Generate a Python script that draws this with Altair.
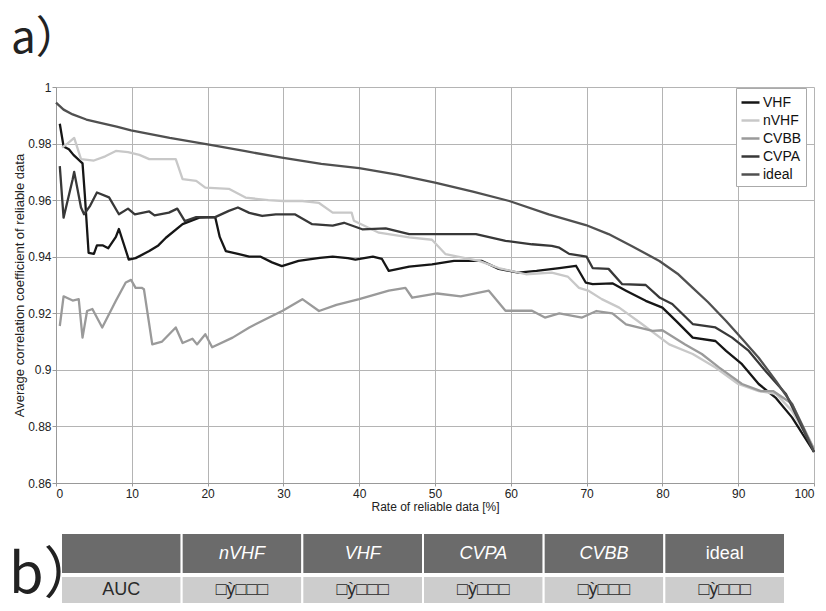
import altair as alt
import pandas as pd

SERIES = ["VHF", "nVHF", "CVBB", "CVPA", "ideal"]
COLORS = ["#161616", "#c8c8c8", "#9a9a9a", "#383838", "#505050"]

X_TICKS = [0, 10, 20, 30, 40, 50, 60, 70, 80, 90, 100]
Y_TICKS = [0.86, 0.88, 0.9, 0.92, 0.94, 0.96, 0.98, 1.0]

VHF_X = [0.5, 1.0, 1.7, 2.3, 3.5, 3.8, 4.3, 5.0, 5.4, 6.2,
         6.9, 7.9, 8.3, 9.6, 10.5, 12.3, 13.5, 14.5, 16.7, 18.9,
         21.0, 21.6, 22.4, 24.0, 25.5, 27.0, 28.5, 29.8, 32.0, 34.8,
         36.5, 38.5, 39.5, 41.8, 43.0, 43.9, 46.6, 49.6, 52.5, 56.2,
         58.4, 61.0, 63.4, 66.4, 68.6, 69.9, 70.8, 73.4, 75.2, 77.8,
         80.0, 81.8, 84.0, 87.0, 88.4, 90.5, 92.7, 95.0, 97.1, 100.0]
VHF_Y = [0.987, 0.979, 0.978, 0.976, 0.973, 0.962, 0.9414, 0.941, 0.944, 0.944,
         0.943, 0.947, 0.9498, 0.939, 0.9395, 0.942, 0.944, 0.9467, 0.9515, 0.9538,
         0.954, 0.947, 0.942, 0.941, 0.940, 0.940, 0.938, 0.9367, 0.9385, 0.9396,
         0.940, 0.9395, 0.939, 0.940, 0.9392, 0.935, 0.9365, 0.9373, 0.9385, 0.9385,
         0.9357, 0.9344, 0.935, 0.936, 0.9368, 0.9308, 0.9303, 0.9306, 0.928, 0.9244,
         0.922, 0.9173, 0.9114, 0.9102, 0.9067, 0.902, 0.895, 0.890, 0.8832, 0.871]

NVHF_X = [0.8, 1.5, 2.4, 3.3, 5.0, 6.5, 7.9, 9.5, 11.0, 12.3,
          15.8, 16.7, 18.5, 19.7, 22.8, 25.0, 28.0, 30.0, 32.5, 34.7,
          36.5, 39.0, 39.3, 42.6, 46.6, 49.6, 51.4, 53.0, 55.8, 58.4,
          62.0, 65.4, 67.5, 69.0, 70.3, 72.0, 74.3, 77.3, 80.9, 84.0,
          87.0, 90.0, 92.7, 95.0, 97.1, 100.0]
NVHF_Y = [0.9786, 0.980, 0.982, 0.9745, 0.974, 0.9755, 0.9774, 0.977, 0.976, 0.9745,
          0.9745, 0.9674, 0.9668, 0.9644, 0.964, 0.9609, 0.960, 0.9597, 0.9597, 0.959,
          0.9556, 0.9556, 0.9527, 0.9485, 0.9468, 0.946, 0.9409, 0.940, 0.9385, 0.936,
          0.9338, 0.9344, 0.933, 0.929, 0.9279, 0.925, 0.922, 0.9162, 0.909, 0.9056,
          0.9008, 0.895, 0.8925, 0.8915, 0.8855, 0.872]

CVBB_X = [0.5, 1.0, 2.2, 3.0, 3.5, 4.1, 4.8, 6.1, 7.9, 9.2,
          9.9, 10.5, 11.3, 11.6, 12.7, 14.0, 15.8, 16.7, 18.0, 18.6,
          19.7, 20.6, 23.3, 25.5, 27.7, 29.9, 32.5, 34.7, 37.0, 40.0,
          43.9, 46.1, 47.0, 50.3, 53.4, 57.1, 59.3, 62.8, 64.5, 66.4,
          69.4, 71.3, 73.4, 75.2, 78.7, 80.0, 83.0, 85.2, 87.5, 90.5,
          93.0, 94.6, 97.1, 100.0]
CVBB_Y = [0.9155, 0.926, 0.9245, 0.925, 0.9114, 0.9208, 0.9215, 0.915, 0.9244, 0.9309,
          0.9318, 0.929, 0.929, 0.9285, 0.909, 0.910, 0.915, 0.9095, 0.911, 0.909,
          0.9126, 0.908, 0.9114, 0.915, 0.918, 0.9209, 0.925, 0.9208, 0.923, 0.925,
          0.928, 0.929, 0.9255, 0.927, 0.926, 0.928, 0.9209, 0.9209, 0.9185, 0.920,
          0.9185, 0.9208, 0.920, 0.9161, 0.9138, 0.914, 0.909, 0.9056, 0.9008, 0.895,
          0.8925, 0.8925, 0.888, 0.872]

CVPA_X = [0.5, 1.0, 2.2, 2.4, 3.3, 3.7, 4.5, 5.4, 7.0, 8.3,
          9.5, 10.4, 12.3, 13.0, 14.9, 16.0, 17.0, 18.5, 21.0, 22.8,
          24.0, 25.5, 27.2, 29.0, 31.5, 33.8, 36.5, 38.0, 40.4, 43.5,
          46.6, 51.8, 55.4, 59.3, 62.8, 65.4, 66.4, 67.7, 70.0, 70.8,
          72.9, 74.7, 77.8, 79.6, 81.3, 84.0, 87.0, 89.2, 91.4, 93.6,
          96.3, 100.0]
CVPA_Y = [0.972, 0.9538, 0.9674, 0.970, 0.9574, 0.955, 0.958, 0.9627, 0.961, 0.955,
          0.957, 0.955, 0.956, 0.9546, 0.9556, 0.957, 0.9526, 0.954, 0.954, 0.9562,
          0.9574, 0.9555, 0.9544, 0.955, 0.955, 0.9515, 0.951, 0.952, 0.9497, 0.950,
          0.948, 0.948, 0.948, 0.9456, 0.9444, 0.9438, 0.9432, 0.941, 0.940, 0.936,
          0.9357, 0.9303, 0.930, 0.9256, 0.9233, 0.9162, 0.915, 0.9114, 0.9067, 0.8996,
          0.8915, 0.871]

IDEAL_X = [0.0, 1.0, 2.2, 4.0, 5.7, 8.0, 9.9, 15.0, 20.0, 25.0,
           29.8, 35.0, 40.0, 45.0, 50.0, 55.0, 59.8, 65.0, 69.9, 72.9,
           76.0, 79.6, 82.0, 84.0, 86.0, 88.4, 90.5, 92.7, 95.0, 97.1,
           98.5, 100.0]
IDEAL_Y = [0.9945, 0.992, 0.9903, 0.9885, 0.9874, 0.986, 0.9847, 0.982, 0.9797, 0.9773,
           0.975, 0.9728, 0.9713, 0.969, 0.9662, 0.963, 0.9597, 0.955, 0.9512, 0.948,
           0.9437, 0.9385, 0.934, 0.929, 0.924, 0.9173, 0.911, 0.9043, 0.896, 0.8879,
           0.880, 0.871]

TABLE_KEYS = ["c0", "c1", "c2", "c3", "c4", "c5"]
TABLE_HEADERS = ["", "nVHF", "VHF", "CVPA", "CVBB", "ideal"]
HEADER_ITALIC = [False, True, True, True, True, False]
AUC_ROW = ["AUC", "□ỳ□□□", "□ỳ□□□", "□ỳ□□□", "□ỳ□□□", "□ỳ□□□"]

FONT = "Liberation Sans"

rows = []
for name, xs, ys in [("VHF", VHF_X, VHF_Y), ("nVHF", NVHF_X, NVHF_Y),
                     ("CVBB", CVBB_X, CVBB_Y), ("CVPA", CVPA_X, CVPA_Y),
                     ("ideal", IDEAL_X, IDEAL_Y)]:
    for i, (x, y) in enumerate(zip(xs, ys)):
        rows.append({"series": name, "x": x, "y": y, "i": i})
df = pd.DataFrame(rows)

lines = alt.Chart(df).mark_line(strokeWidth=2.3, strokeJoin="round").encode(
    x=alt.X("x:Q", scale=alt.Scale(domain=[0, 100], nice=False),
            axis=alt.Axis(values=X_TICKS, title="Rate of reliable data [%]",
                          labelFlush=True, tickSize=3, labelPadding=2, titlePadding=2,
                          titleFontSize=12)),
    y=alt.Y("y:Q", scale=alt.Scale(domain=[0.86, 1.0], nice=False, zero=False),
            axis=alt.Axis(values=Y_TICKS, format="~g",
                          title="Average correlation coefficient of reliable data",
                          tickSize=4, labelPadding=1, titlePadding=1, titleFontSize=13)),
    color=alt.Color("series:N", scale=alt.Scale(domain=SERIES, range=COLORS),
                    legend=alt.Legend(title=None, orient="none", legendX=680, legendY=1,
                                      symbolType="stroke", symbolSize=324,
                                      symbolStrokeWidth=2.5, labelFontSize=14,
                                      labelFont=FONT, labelColor="#111",
                                      padding=4, rowPadding=0, labelOffset=2,
                                      strokeColor="#aaaaaa", fillColor="white")),
    order=alt.Order("i:Q"),
)

a_label = alt.Chart(pd.DataFrame({"t": ["a）"]})).mark_text(
    fontSize=44, font="Noto Sans CJK JP", color="#222", baseline="middle", align="left"
).encode(text="t:N", x=alt.value(-45), y=alt.value(-47))

top = alt.layer(lines, a_label).properties(width=758, height=396)

hdr_df = pd.DataFrame({"key": TABLE_KEYS, "label": TABLE_HEADERS, "italic": HEADER_ITALIC})
body_df = pd.DataFrame({"key": TABLE_KEYS, "label": AUC_ROW})

xenc = alt.X("key:N", scale=alt.Scale(domain=TABLE_KEYS, range=[5, 729],
                                      paddingInner=0, paddingOuter=0), axis=None)

header = alt.layer(
    alt.Chart(hdr_df).mark_rect(color="#6b6b6b", stroke="white", strokeWidth=2).encode(x=xenc),
    alt.Chart(hdr_df).transform_filter("datum.italic").mark_text(
        color="white", fontSize=18, fontStyle="italic", font=FONT, baseline="middle"
    ).encode(x=xenc, text="label:N"),
    alt.Chart(hdr_df).transform_filter("!datum.italic").mark_text(
        color="white", fontSize=18, font=FONT, baseline="middle"
    ).encode(x=xenc, text="label:N"),
).properties(width=729, height=41)

b_label = alt.Chart(pd.DataFrame({"t": ["b）"]})).mark_text(
    fontSize=56, font="Noto Sans CJK JP", color="#222", baseline="middle", align="left"
).encode(text="t:N", x=alt.value(-47), y=alt.value(0))

body = alt.layer(
    alt.Chart(body_df).mark_rect(color="#cdcdcd", stroke="white", strokeWidth=2).encode(x=xenc),
    alt.Chart(body_df).mark_text(color="#2a2a2a", fontSize=18, font=FONT, baseline="middle").encode(
        x=xenc, text="label:N"),
    b_label,
).properties(width=729, height=28)

table = alt.vconcat(header, body, spacing=2, bounds="flush")

chart = alt.vconcat(top, table, spacing=50, bounds="flush").properties(
    padding={"left": 0, "top": 9, "right": 0, "bottom": 0}
).configure_view(stroke="transparent").configure_axis(
    domainColor="#999999", gridColor="#b4b4b4", tickColor="#999999",
    labelColor="#222222", titleColor="#222222", labelFont=FONT, titleFont=FONT,
    labelFontSize=12, titleFontWeight="normal"
)

chart.save("out.html", embed_options={"renderer": "svg", "actions": False})
